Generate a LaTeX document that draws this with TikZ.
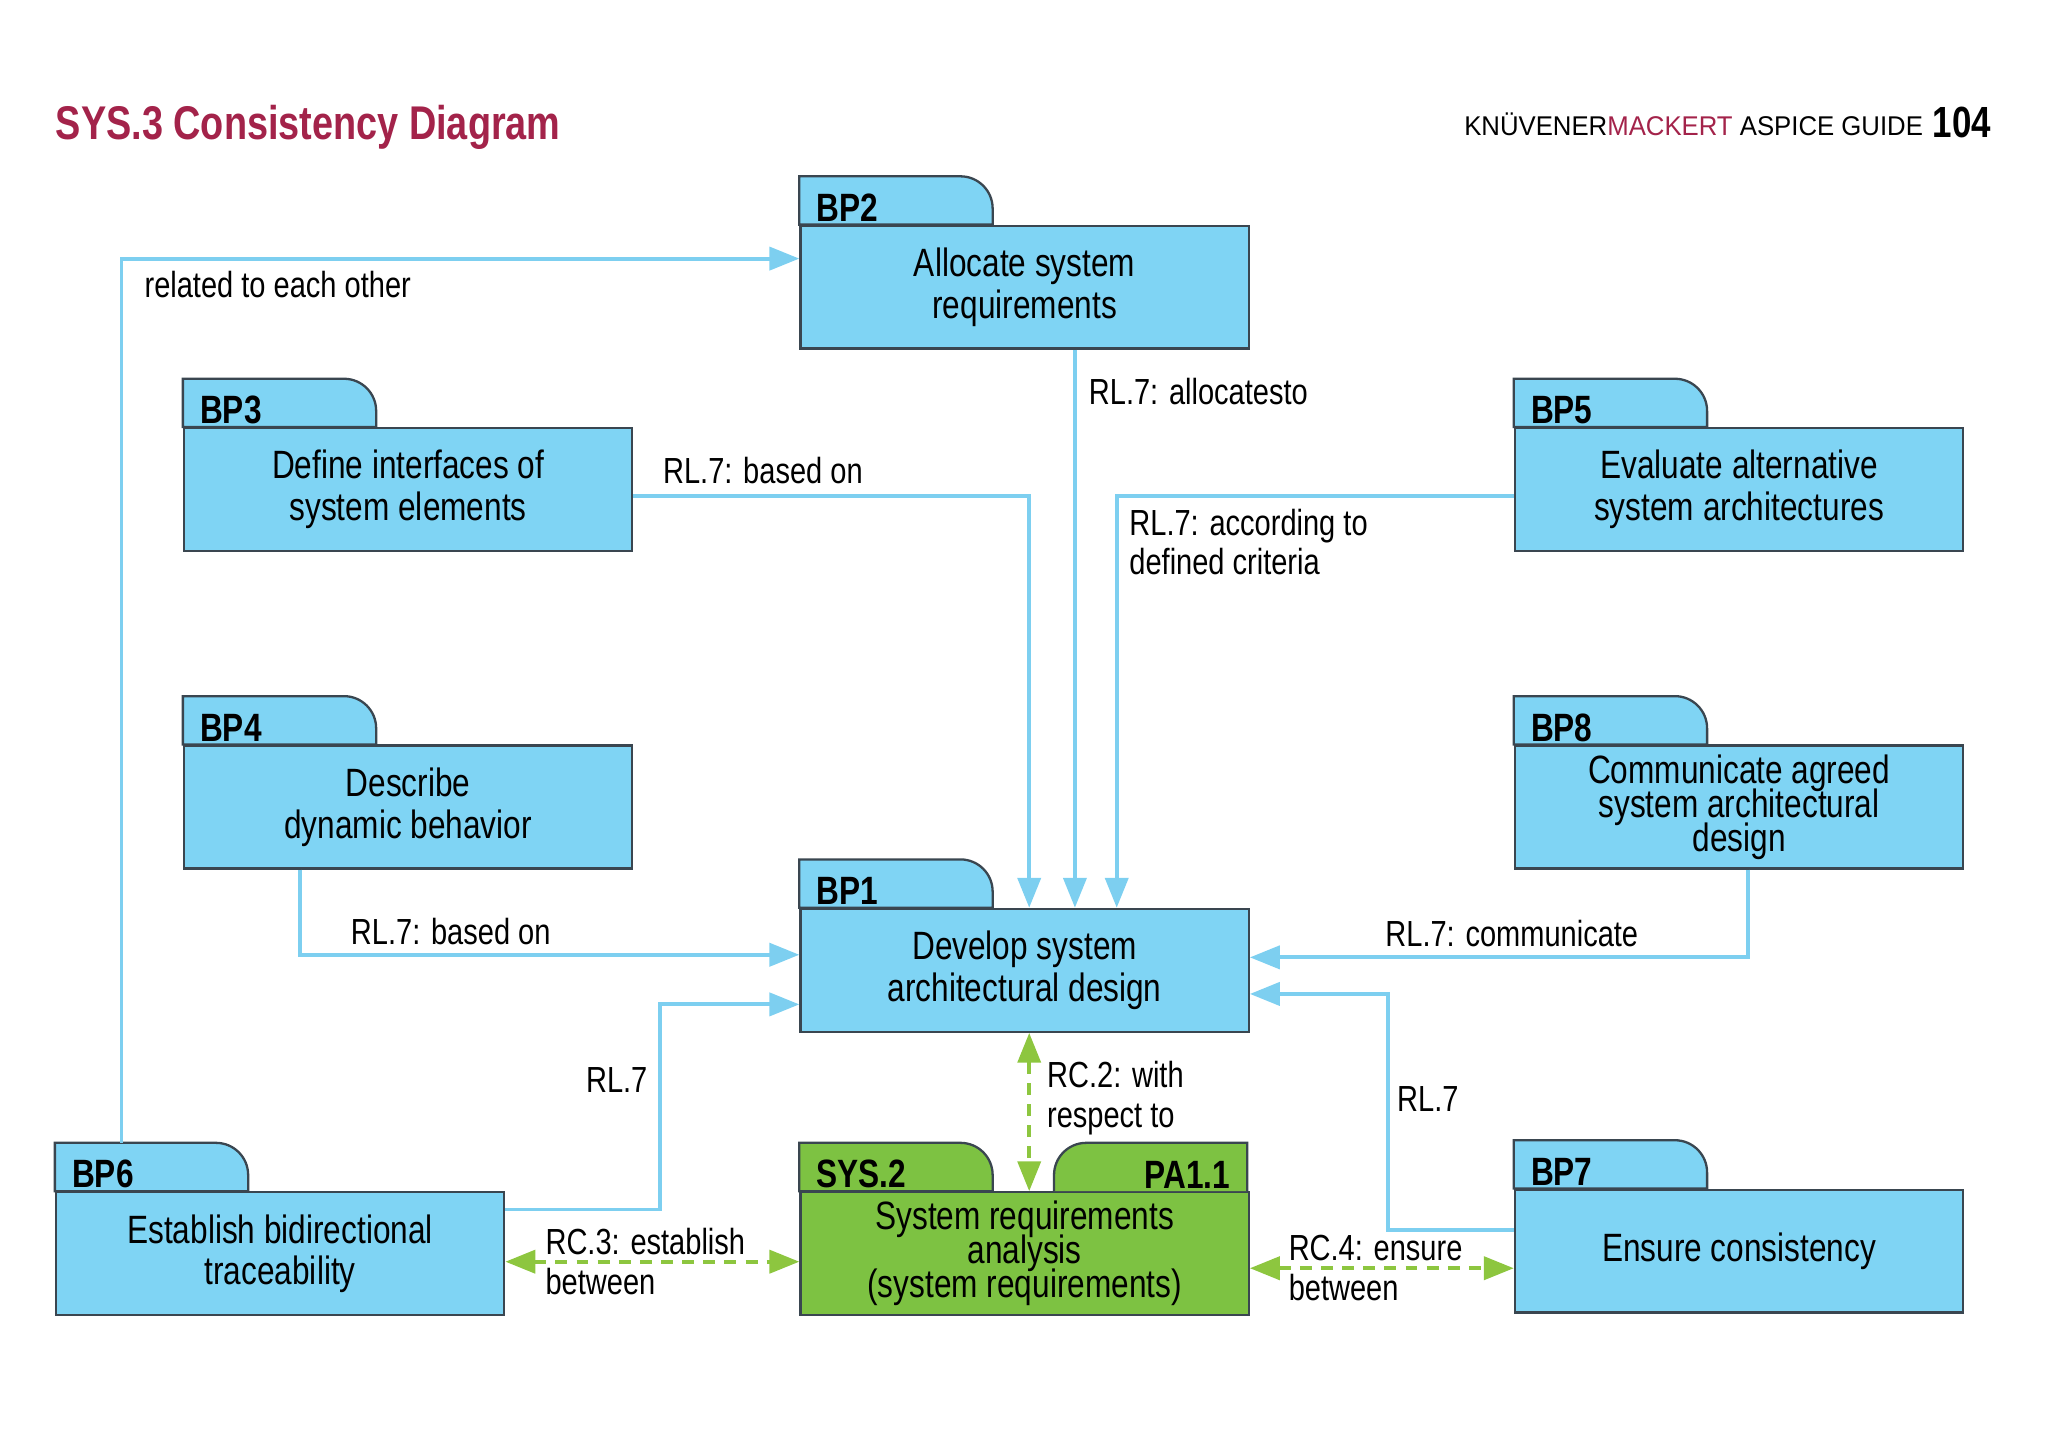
\documentclass[tikz,border=0pt]{standalone}
\usepackage{fontspec}
\setmainfont{Liberation Sans}[FakeStretch=0.8]
\newfontfamily\hdfont{Liberation Sans}[FakeStretch=0.95]
\usetikzlibrary{calc,arrows.meta}
\definecolor{bpfill}{HTML}{7FD4F4}
\definecolor{bpline}{HTML}{7DCFF0}
\definecolor{sysfill}{HTML}{7DC242}
\definecolor{rcline}{HTML}{8DC63F}
\definecolor{edge}{HTML}{3A4650}
\definecolor{km}{HTML}{A3234A}

\tikzset{
  box/.style={draw=edge, line width=0.5pt, minimum width=3.43cm, minimum height=0.94cm,
    inner sep=0pt, align=center, font=\fontsize{8.6}{9.1}\selectfont},
  tight/.style={font={\fontsize{8.6}{7.4}\selectfont\lineskiplimit=-5pt}},
  tabl/.style={inner sep=1pt, font=\bfseries\fontsize{8.6}{9}\selectfont},
  conn/.style={draw=bpline, line width=0.85pt, -{Triangle[length=6.5pt,width=5pt]}},
  rc/.style={draw=rcline, line width=0.85pt, dash pattern=on 2.6pt off 2pt,
    {Triangle[length=6.5pt,width=5pt]}-{Triangle[length=6.5pt,width=5pt]}},
  lbl/.style={inner sep=0pt, align=left, anchor=north west, font=\fontsize{7.9}{8.6}\selectfont},
}

% name, x, body top y, tab label, text, fill, extra node options
\newcommand\bpfolder[7][]{%
  \filldraw[fill=#7, draw=edge, line width=0.5pt] (#3,#4) -- (#3,#4-37)
    [rounded corners=7] -- (#3+148,#4-37) [sharp corners] -- (#3+148,#4) -- cycle;
  \node[box, fill=#7, anchor=north west, #1] (#2) at (#3,#4) {#6};
  \node[tabl, anchor=south west] (#2t) at (#3+9,#4+2) {#5};
}

\begin{document}
\begin{tikzpicture}[x=0.01cm, y=-0.01cm]
\useasboundingbox (0,0) rectangle (1568,1113);

\node[anchor=base west, inner sep=0pt, text=km, font=\bfseries\fontsize{10.3}{12}\selectfont] (title) at (42,107) {SYS.3 Consistency Diagram};
\node[anchor=base east, inner sep=0pt, font=\bfseries\fontsize{9.5}{12}\selectfont] (pg) at (1525,105) {104};
\node[anchor=base east, inner sep=0pt, font=\hdfont\fontsize{5.9}{8}\selectfont] (hd) at (1473,104)
  {KNÜVENER\textcolor{km}{MACKERT} ASPICE GUIDE};

\bpfolder{bp2}{612}{172}{BP2}{Allocate system\\requirements}{bpfill}
\bpfolder{bp3}{140}{327}{BP3}{Define interfaces of\\system elements}{bpfill}
\bpfolder{bp5}{1159}{327}{BP5}{Evaluate alternative\\system architectures}{bpfill}
\bpfolder{bp4}{140}{570}{BP4}{Describe\\dynamic behavior}{bpfill}
\bpfolder[tight]{bp8}{1159}{570}{BP8}{Communicate agreed\\system architectural\\design}{bpfill}
\bpfolder{bp1}{612}{695}{BP1}{Develop system\\architectural design}{bpfill}
\bpfolder{bp6}{42}{912}{BP6}{Establish bidirectional\\traceability}{bpfill}
\bpfolder{bp7}{1159}{910}{BP7}{Ensure consistency}{bpfill}
\bpfolder[tight]{sys}{612}{912}{SYS.2}{System requirements\\analysis\\(system requirements)}{sysfill}
\filldraw[fill=sysfill, draw=edge, line width=0.5pt] (807,912) [rounded corners=7] -- (807,875)
  [sharp corners] -- (955,875) -- (955,912);
\node[tabl, anchor=south east] (pa) at (946,914) {PA1.1};

% blue relations
\draw[conn] ($(bp6.north west)+(51,-37)$) |- ($(bp2.north west)+(0,26)$);
\node[lbl] (l1) at (110,207) {related to each other};
\draw[conn] (bp2.south -| 823,0) -- (bp1.north -| 823,0);
\node[lbl] (l2) at (833,289) {RL.7: allocatesto};
\draw[conn] ($(bp3.north east)+(0,53)$) -| (bp1.north -| 788,0);
\node[lbl] (l3) at (507,349) {RL.7: based on};
\draw[conn] ($(bp5.north west)+(0,53)$) -| (bp1.north -| 855,0);
\node[lbl] (l4) at (864,389) {RL.7: according to\\defined criteria};
\draw[conn] (bp4.south -| 230,0) |- ($(bp1.north west)+(0,36)$);
\node[lbl] (l5) at (268,702) {RL.7: based on};
\draw[conn] (bp8.south -| 1338,0) |- ($(bp1.north east)+(0,38)$);
\node[lbl] (l6) at (1060,704) {RL.7: communicate};
\draw[conn] ($(bp6.north east)+(0,14)$) -| (505,769) -- ($(bp1.north west)+(0,74)$);
\node[lbl] (l7) at (448,817) {RL.7};
\draw[conn] ($(bp7.north west)+(0,32)$) -| (1063,761) -- ($(bp1.north east)+(0,66)$);
\node[lbl] (l8) at (1069,831) {RL.7};

% green consistency
\draw[rc] (bp1.south -| 788,0) -- (sys.north -| 788,0);
\node[lbl] (l9) at (801,812) {RC.2: with\\respect to};
\draw[rc] ($(bp6.north east)+(0,54)$) -- ($(sys.north west)+(0,54)$);
\node[lbl] (l10) at (417,940) {RC.3: establish\\between};
\draw[rc] ($(sys.north east)+(0,59)$) -- ($(bp7.north west)+(0,61)$);
\node[lbl] (l11) at (986,945) {RC.4: ensure\\between};
\end{tikzpicture}
\end{document}
